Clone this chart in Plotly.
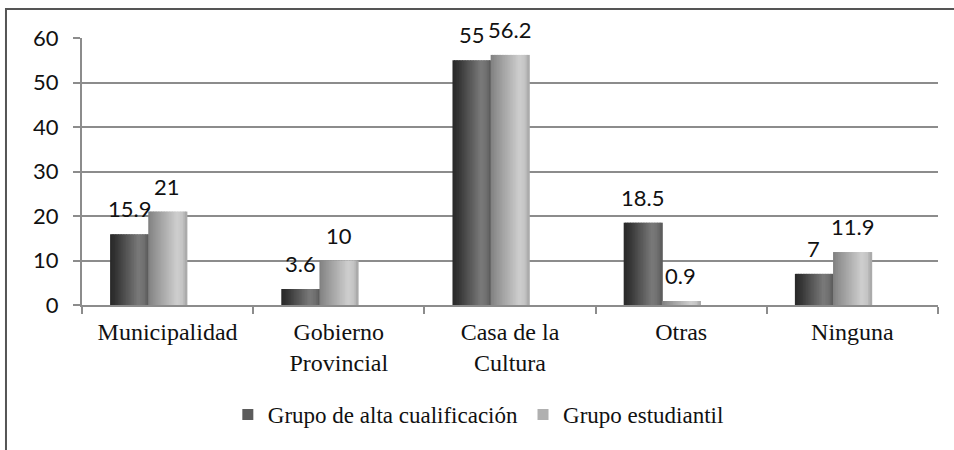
import plotly.graph_objects as go

# Chart data
categories = ["Municipalidad", "Gobierno<br>Provincial", "Casa de la<br>Cultura", "Otras", "Ninguna"]
alta_cualificacion = [15.9, 3.6, 55, 18.5, 7]
estudiantil = [21, 10, 56.2, 0.9, 11.9]
y_ticks = [0, 10, 20, 30, 40, 50, 60]

label_font = dict(family="Lato, Open Sans, sans-serif", size=22, color="#111111")
tick_font = dict(family="Lato, Open Sans, sans-serif", size=22, color="#111111")
serif_font = dict(family="Liberation Serif, Times New Roman, serif", size=24, color="#111111")

# bar geometry in category units (bars sit a bit left of the category centre)
bar_w = 0.223
dark_left = -0.336
light_left = dark_left + bar_w


def ramp(stops, n):
    # grey ramp across a bar: stops are (position 0..1, grey level)
    out = []
    for k in range(n):
        t = (k + 0.5) / n
        for (p0, g0), (p1, g1) in zip(stops, stops[1:]):
            if p0 <= t <= p1:
                g = g0 + (g1 - g0) * (t - p0) / (p1 - p0)
                break
        g = int(round(g))
        out.append(f"rgb({g},{g},{g})")
    return out


n_slices = 24
dark_shades = ramp([(0, 40), (0.15, 52), (0.75, 122), (0.9, 110), (1, 88)], n_slices)
light_shades = ramp([(0, 128), (0.15, 145), (0.75, 206), (0.9, 196), (1, 165)], n_slices)

fig = go.Figure()


def add_shaded(values, left, shades, name, legend_color):
    step = bar_w / len(shades)
    for i, c in enumerate(shades):
        fig.add_trace(go.Bar(x=list(range(len(categories))), y=values, offset=left + i * step,
                             width=step * 1.6, marker=dict(color=c, line=dict(width=0)),
                             showlegend=False, hoverinfo="skip"))
    # legend entry only
    fig.add_trace(go.Scatter(x=[None], y=[None], mode="markers", name=name,
                             marker=dict(symbol="square", size=11, color=legend_color)))


add_shaded(alta_cualificacion, dark_left, dark_shades, "Grupo de alta cualificación", "#5c5c5c")
add_shaded(estudiantil, light_left, light_shades, "Grupo estudiantil", "#b0b0b0")

# value labels above the bars
for i, v in enumerate(alta_cualificacion):
    fig.add_annotation(x=i + dark_left + bar_w / 2, y=v, text=str(v), showarrow=False,
                       yanchor="bottom", yshift=10, font=label_font)
for i, v in enumerate(estudiantil):
    fig.add_annotation(x=i + light_left + bar_w / 2, y=v, text=str(v), showarrow=False,
                       yanchor="bottom", yshift=10, font=label_font)

# outer frame of the chart
fig.add_shape(type="rect", xref="paper", yref="paper", x0=-0.0888, x1=1.2, y0=-0.8, y1=1.1086,
              line=dict(color="#555555", width=2), layer="below")

fig.update_layout(
    width=954, height=450,
    margin=dict(l=82, r=16, t=38, b=145, autoexpand=False),
    paper_bgcolor="white", plot_bgcolor="white",
    barmode="overlay",
    showlegend=True,
    legend=dict(orientation="h", x=0.463, xanchor="center", y=-0.41, yanchor="middle",
                font=dict(serif_font, size=23), itemwidth=30, traceorder="normal"),
    xaxis=dict(tickmode="array", tickvals=list(range(len(categories))), ticktext=categories,
               range=[-0.5, len(categories) - 0.5],
               tickfont=serif_font, showline=True, linecolor="#8c8c8c", linewidth=2,
               ticks="", showgrid=False, automargin=False, ticklabelstandoff=4,
               minor=dict(tickvals=[k - 0.5 for k in range(len(categories) + 1)], ticks="outside",
                          ticklen=7, tickcolor="#8c8c8c", tickwidth=2, showgrid=False)),
    yaxis=dict(range=[0, 60], tickvals=y_ticks, tickfont=tick_font,
               showline=True, linecolor="#8c8c8c", linewidth=2,
               ticks="outside", ticklen=7, tickcolor="#8c8c8c", tickwidth=2, ticklabelstandoff=10,
               showgrid=True, gridcolor="#8c8c8c", gridwidth=2, zeroline=False,
               automargin=False),
)

# page margin off so the figure sits at the window corner
fig.write_html("out.html", config={"displayModeBar": False},
               post_script="document.body.style.margin='0';")
